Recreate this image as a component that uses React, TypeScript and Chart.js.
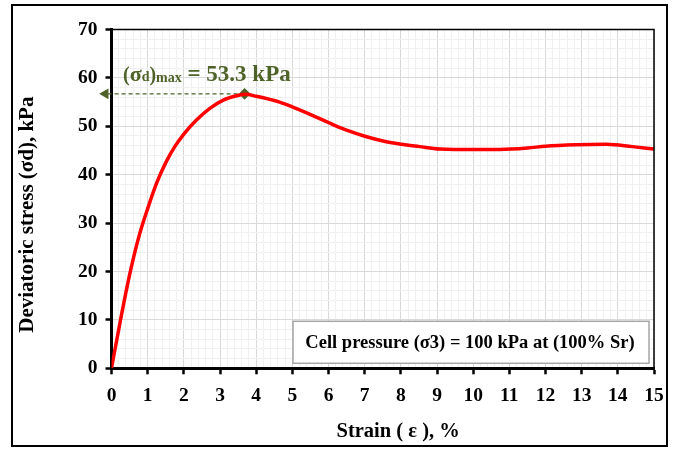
import { useEffect, useRef } from 'react';
import { Chart, registerables } from 'chart.js';

Chart.register(...registerables);

// ---- data ----
const STRAIN = [0, 0.25, 0.5, 0.75, 1.0, 1.25, 1.5, 1.75, 2.0, 2.35, 2.72, 3.09, 3.46, 3.7, 4.0, 4.65, 5.0, 5.57, 6.02, 6.5, 7.03, 7.6, 8.0, 8.52, 9.07, 9.5, 10.0, 10.73, 11.5, 12.0, 12.85, 13.68, 14.4, 15.0];
const STRESS = [0, 10, 19.3, 27, 33, 38.3, 42.5, 45.8, 48.4, 51.3, 53.7, 55.4, 56.3, 56.6, 56.2, 55.0, 54.0, 52.2, 50.7, 49.2, 47.9, 46.8, 46.3, 45.8, 45.3, 45.2, 45.2, 45.2, 45.5, 45.9, 46.2, 46.3, 45.8, 45.3];
const PEAK_STRAIN = 3.68;
const PEAK_STRESS = 56.7;
const ARROW_END_STRAIN = -0.17;
const PEAK_VALUE_TEXT = '= 53.3 kPa';
const NOTE_TEXT = 'Cell pressure (σ3) = 100 kPa at (100% Sr)';
const X_TITLE = 'Strain ( ε ), %';
const Y_TITLE = 'Deviatoric stress (σd), kPa';
const X_RANGE = [0, 15];
const Y_RANGE = [0, 70];
const X_STEPS = [1, 0.2]; // major, minor
const Y_STEPS = [10, 2];

const SERIF = '"Liberation Serif", "Times New Roman", serif';
const GREEN = '#4f6228';

const isMajor = (v: number, step: number) => Math.abs(v / step - Math.round(v / step)) < 1e-6;

const decorPlugin = {
  id: 'decor',
  afterDatasetsDraw(chart: any) {
    const { ctx, chartArea, scales } = chart;
    const xs = scales.x, ys = scales.y;
    ctx.save();
    // plot frame (top/right)
    ctx.strokeStyle = '#000';
    ctx.lineWidth = 1.5;
    ctx.beginPath();
    ctx.moveTo(chartArea.left, chartArea.top);
    ctx.lineTo(chartArea.right, chartArea.top);
    ctx.lineTo(chartArea.right, chartArea.bottom);
    ctx.stroke();

    // note box
    const bx = chartArea.right - 361, by = chartArea.bottom - 47, bw = 356, bh = 42;
    ctx.fillStyle = '#fff';
    ctx.fillRect(bx, by, bw, bh);
    ctx.strokeStyle = '#a6a6a6';
    ctx.lineWidth = 1.5;
    ctx.strokeRect(bx, by, bw, bh);
    ctx.fillStyle = '#000';
    ctx.font = 'bold 18.5px ' + SERIF;
    ctx.textAlign = 'center';
    ctx.textBaseline = 'middle';
    ctx.fillText(NOTE_TEXT, bx + bw / 2 - 1, by + bh / 2 + 1);

    // peak label
    let x = xs.getPixelForValue(0) + 11.5;
    const base = ys.getPixelForValue(PEAK_STRESS) - 13;
    ctx.textAlign = 'left';
    ctx.textBaseline = 'alphabetic';
    ctx.fillStyle = GREEN;
    const seg = (t: string, size: number, dy: number) => {
      ctx.font = 'bold ' + size + 'px ' + SERIF;
      ctx.fillText(t, x, base + dy);
      x += ctx.measureText(t).width;
    };
    seg('(', 20, 0);
    seg('σ', 22, 0);
    seg('d', 14, 0);
    seg(')', 20, 0);
    seg('max', 14, 1);
    seg(' ' + PEAK_VALUE_TEXT, 23, 0);

    // outer frame
    ctx.strokeStyle = '#000';
    ctx.lineWidth = 2;
    ctx.strokeRect(12, 5, 655, 441);
    ctx.restore();
  },
};

export default function App() {
  const ref = useRef<HTMLCanvasElement | null>(null);
  useEffect(() => {
    if (!ref.current) return;
    const curve = STRAIN.map((s, i) => ({ x: s, y: STRESS[i] }));
    const chart = new Chart(ref.current, {
      type: 'line',
      data: {
        datasets: [
          {
            data: curve,
            borderColor: '#ff0000',
            borderWidth: 3.5,
            pointRadius: 0,
            cubicInterpolationMode: 'monotone',
            fill: false,
          },
          {
            data: [
              { x: PEAK_STRAIN, y: PEAK_STRESS },
              { x: ARROW_END_STRAIN, y: PEAK_STRESS },
            ],
            borderColor: GREEN,
            borderWidth: 1.2,
            borderDash: [4, 3],
            pointStyle: ['rectRot', 'triangle'] as any,
            pointRotation: [0, -90] as any,
            pointRadius: [5, 5] as any,
            pointBackgroundColor: GREEN,
            pointBorderColor: GREEN,
            clip: false as any,
          },
        ],
      },
      options: {
        responsive: false,
        animation: false,
        events: [],
        layout: { padding: { left: 0, right: 24, top: 29.5, bottom: 0 } },
        plugins: { legend: { display: false }, tooltip: { enabled: false } },
        scales: {
          x: {
            type: 'linear',
            min: X_RANGE[0],
            max: X_RANGE[1],
            afterFit: (s: any) => { s.height = 81.7; },
            ticks: {
              stepSize: X_STEPS[1],
              autoSkip: false,
              maxTicksLimit: 500,
              maxRotation: 0,
              padding: 10,
              color: '#000',
              font: { family: SERIF, size: 19.5, weight: 'bold' },
              callback: (v: any) => (isMajor(Number(v), X_STEPS[0]) ? String(Math.round(Number(v))) : ''),
            },
            grid: {
              color: (c: any) => (c.tick && isMajor(c.tick.value, X_STEPS[0]) ? '#d9d9d9' : '#f0f0f0'),
              lineWidth: 1,
              tickLength: 6,
              tickWidth: 2.5,
              tickColor: (c: any) => (c.tick && isMajor(c.tick.value, X_STEPS[0]) ? '#000' : 'rgba(0,0,0,0)'),
            },
            border: { display: true, color: '#000', width: 3 },
            title: {
              display: true,
              text: '      ' + X_TITLE,
              color: '#000',
              font: { family: SERIF, size: 20.5, weight: 'bold' },
              padding: { top: 0, bottom: 6 },
            },
          },
          y: {
            type: 'linear',
            min: Y_RANGE[0],
            max: Y_RANGE[1],
            afterFit: (s: any) => { s.width = 111.5; },
            ticks: {
              stepSize: Y_STEPS[1],
              autoSkip: false,
              maxTicksLimit: 500,
              padding: 8,
              color: '#000',
              font: { family: SERIF, size: 19.5, weight: 'bold' },
              callback: (v: any) => (isMajor(Number(v), Y_STEPS[0]) ? String(Math.round(Number(v))) : ''),
            },
            grid: {
              color: (c: any) => (c.tick && isMajor(c.tick.value, Y_STEPS[0]) ? '#d9d9d9' : '#f0f0f0'),
              lineWidth: 1,
              tickLength: 6,
              tickWidth: 2.5,
              tickColor: (c: any) => (c.tick && isMajor(c.tick.value, Y_STEPS[0]) ? '#000' : 'rgba(0,0,0,0)'),
            },
            border: { display: true, color: '#000', width: 3 },
            title: {
              display: true,
              text: Y_TITLE + '      ',
              color: '#000',
              font: { family: SERIF, size: 21, weight: 'bold' },
              padding: { top: 15, bottom: 0 },
            },
          },
        },
      },
      plugins: [decorPlugin],
    } as any);
    return () => chart.destroy();
  }, []);

  return (
    <div style={{ position: 'absolute', left: 0, top: 0, width: 678, height: 450, background: '#fff' }}>
      <canvas ref={ref} width={678} height={450} />
    </div>
  );
}
